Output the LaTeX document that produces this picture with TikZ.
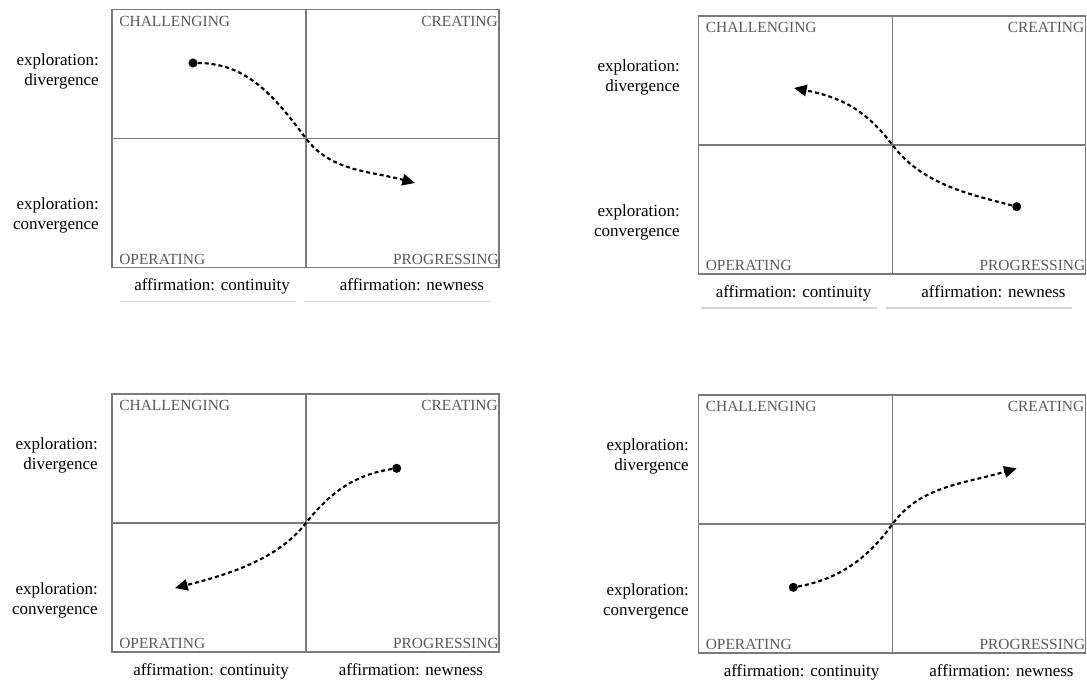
\documentclass[tikz,border=0pt]{standalone}
\usepackage{fontspec}
\setmainfont{Liberation Serif}
\usetikzlibrary{arrows.meta, positioning}
\definecolor{grismarco}{HTML}{7A7A7A}
\definecolor{grisetiqueta}{HTML}{595959}
\definecolor{grisclaro}{HTML}{D4D4D4}
\colorlet{colFrame}{grismarco}
\colorlet{colQuad}{grisetiqueta}
\colorlet{colRule}{grisclaro}
\tikzset{
  frameLine/.style={draw=colFrame, line width=1.4pt},
  quadLabel/.style={inner sep=0pt, text=colQuad, font=\fontsize{11.6}{13}\selectfont},
  axisLabel/.style={inner sep=0pt, align=right, anchor=east,
    font=\fontsize{12.75}{15}\selectfont},
  affLabel/.style={inner sep=0pt, anchor=base, font=\fontsize{12.75}{15}\selectfont},
  ruleLine/.style={draw=colRule, line width=1.1pt},
  pathDot/.style={circle, fill=black, inner sep=0pt, minimum size=6.8pt},
  pathFlow/.style={-{Triangle[length=9.5pt, width=8.5pt]}, line width=1.6pt,
    dash pattern=on 3pt off 2.2pt},
}
\begin{document}
\begin{tikzpicture}[x=0.75pt, y=-0.75pt]
    \useasboundingbox (0,0) rectangle (1087,682);
    \foreach \px/\py/\lx/\bx/\u [count=\i] in
        {112/9.5/-13/0/1, 698.5/16/-18.5/-5/1, 112/394/-14/-1/0, 698.5/395/-9.5/3/0} {
      \draw[frameLine] (\px,\py) rectangle (\px+387,\py+258);
      \draw[frameLine] (\px+194,\py) -- (\px+194,\py+258);
      \draw[frameLine] (\px,\py+129) -- (\px+387,\py+129);
      \coordinate (mid\i) at (\px+194,\py+129);
      \node[quadLabel, anchor=base west] (chal\i) at (\px+7,\py+16.5) {CHALLENGING};
      \node[quadLabel, anchor=base east] (crea\i) at (\px+386,\py+16.5) {CREATING};
      \node[quadLabel, anchor=base west] (oper\i) at (\px+7,\py+254.5) {OPERATING};
      \node[quadLabel, anchor=base east] (prog\i) at (\px+387,\py+254.5) {PROGRESSING};
      \node[axisLabel] (div\i) at (\px+\lx,\py+61.5) {exploration:\\divergence};
      \node[axisLabel] (conv\i) at (\px+\lx,\py+206) {exploration:\\convergence};
      \node[affLabel] (cont\i) at (\px+100+\bx,\py+281) {affirmation: continuity};
      \node[affLabel] (new\i) at (\px+300+\bx,\py+281) {affirmation: newness};
      \ifnum\u=1
        \draw[ruleLine] (\px+7.5+\bx,\py+292) -- (\px+183.5+\bx,\py+292);
        \draw[ruleLine] (\px+192+\bx,\py+292) -- (\px+378+\bx,\py+292);
      \fi
    }
    \node[pathDot] (start1) at (193,63) {};
    \coordinate (tip1) at (415,183);
    \draw[pathFlow] (start1) .. controls +(55,0) and +(-30,-40) .. (mid1)
      .. controls +(25,33) and +(-45,-12) .. (tip1);
    \node[pathDot] (start2) at (1016.7,206.7) {};
    \coordinate (tip2) at (794,88);
    \draw[pathFlow] (start2) .. controls +(-45,-12) and +(30,40) .. (mid2)
      .. controls +(-28,-37) and +(45,9) .. (tip2);
    \node[pathDot] (start3) at (396.7,468.3) {};
    \coordinate (tip3) at (175,588);
    \draw[pathFlow] (start3) .. controls +(-40,6) and +(25,-32) .. (mid3)
      .. controls +(-28,36) and +(55,-14) .. (tip3);
    \node[pathDot] (start4) at (793.3,587.3) {};
    \coordinate (tip4) at (1016.7,468.3);
    \draw[pathFlow] (start4) .. controls +(45,-8) and +(-25,35) .. (mid4)
      .. controls +(28,-38) and +(-55,16) .. (tip4);
\end{tikzpicture}
\end{document}
